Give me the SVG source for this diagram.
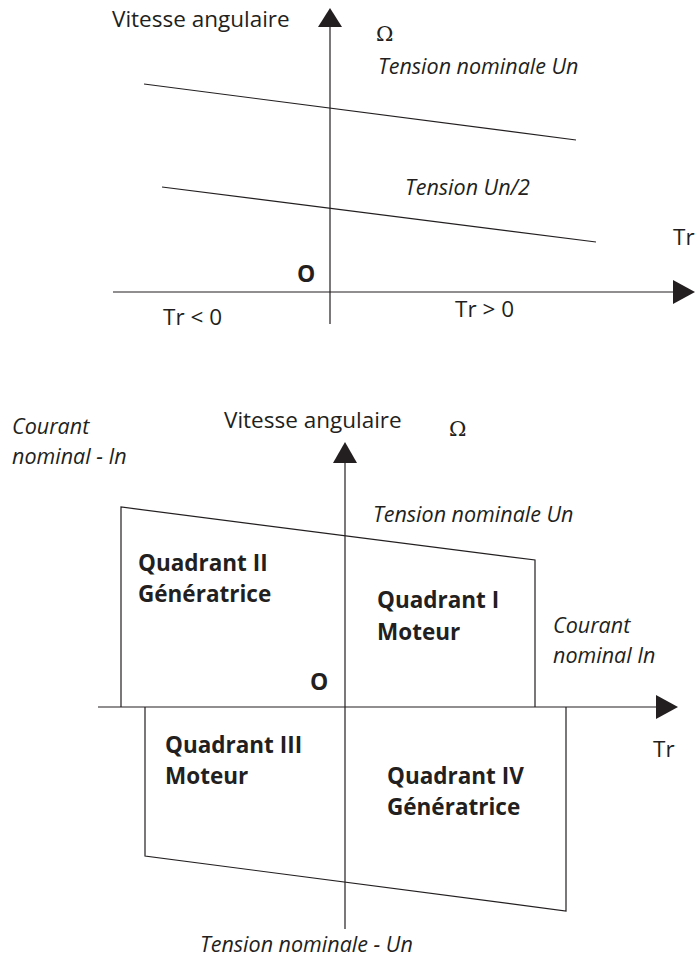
<svg xmlns="http://www.w3.org/2000/svg" width="698" height="957" viewBox="0 0 698 957">
<style>
  .ln { stroke: #231f20; stroke-width: 1.2; fill: none; }
  .ax { stroke: #231f20; stroke-width: 1.2; fill: none; }
  .ah { fill: #231f20; stroke: none; }
  text { font-family: "Open Sans", "Noto Sans", "DejaVu Sans", sans-serif; fill: #231f20; }
  .r { font-size: 22.5px; }
  .i { font-size: 21.5px; font-style: italic; }
  .b { font-size: 22.5px; font-weight: bold; }
  .o { font-size: 23px; font-weight: bold; }
  .om { font-family: "DejaVu Serif", "Liberation Serif", serif; font-size: 21px; }
</style>
<rect width="698" height="957" fill="#ffffff"/>

<g id="chart-top">
  <g id="top-axes">
    <line class="ax" x1="330" y1="26" x2="330" y2="324"/>
    <polygon class="ah" points="330,8 318,27 342,27"/>
    <line class="ax" x1="113" y1="292" x2="674" y2="292"/>
    <polygon class="ah" points="695,292 673,280 673,304"/>
  </g>
  <g id="top-curves">
    <line class="ln" x1="144" y1="84" x2="576" y2="140"/>
    <line class="ln" x1="162" y1="187" x2="596" y2="242"/>
  </g>
  <g id="top-labels">
    <text class="r" x="112" y="27">Vitesse angulaire</text>
    <text class="om" x="376" y="41">Ω</text>
    <text class="i" x="378" y="74">Tension nominale Un</text>
    <text class="i" x="405" y="195">Tension Un/2</text>
    <text class="r" x="673" y="245">Tr</text>
    <text class="o" x="297" y="282">O</text>
    <text class="r" x="163" y="325">Tr &lt; 0</text>
    <text class="r" x="455" y="317">Tr &gt; 0</text>
  </g>
</g>

<g id="chart-bottom">
  <g id="bottom-axes">
    <line class="ax" x1="345" y1="461" x2="345" y2="929"/>
    <polygon class="ah" points="345,442 333,463 357,463"/>
    <line class="ax" x1="98" y1="707" x2="657" y2="707"/>
    <polygon class="ah" points="678,707 656,695 656,719"/>
  </g>
  <g id="quadrants-upper">
    <polyline class="ln" points="121,707 121,507 535,560 535,707"/>
  </g>
  <g id="quadrants-lower">
    <polyline class="ln" points="145,707 145,856 566,911 566,707"/>
  </g>
  <g id="bottom-labels">
    <text class="i" x="12" y="434">Courant</text>
    <text class="i" x="12" y="464">nominal - In</text>
    <text class="r" x="224" y="428">Vitesse angulaire</text>
    <text class="om" x="449" y="436">Ω</text>
    <text class="i" x="373" y="522">Tension nominale Un</text>
    <text class="i" x="553" y="633">Courant</text>
    <text class="i" x="553" y="663">nominal In</text>
    <text class="o" x="310" y="690">O</text>
    <text class="r" x="653" y="757">Tr</text>
    <text class="i" x="200" y="952">Tension nominale - Un</text>
  </g>
  <g id="q2"><text class="b" x="138" y="571">Quadrant II</text><text class="b" x="138" y="602">Génératrice</text></g>
  <g id="q1"><text class="b" x="377" y="608">Quadrant I</text><text class="b" x="377" y="640">Moteur</text></g>
  <g id="q3"><text class="b" x="165" y="753">Quadrant III</text><text class="b" x="165" y="784">Moteur</text></g>
  <g id="q4"><text class="b" x="387" y="784">Quadrant IV</text><text class="b" x="387" y="815">Génératrice</text></g>
</g>
</svg>
